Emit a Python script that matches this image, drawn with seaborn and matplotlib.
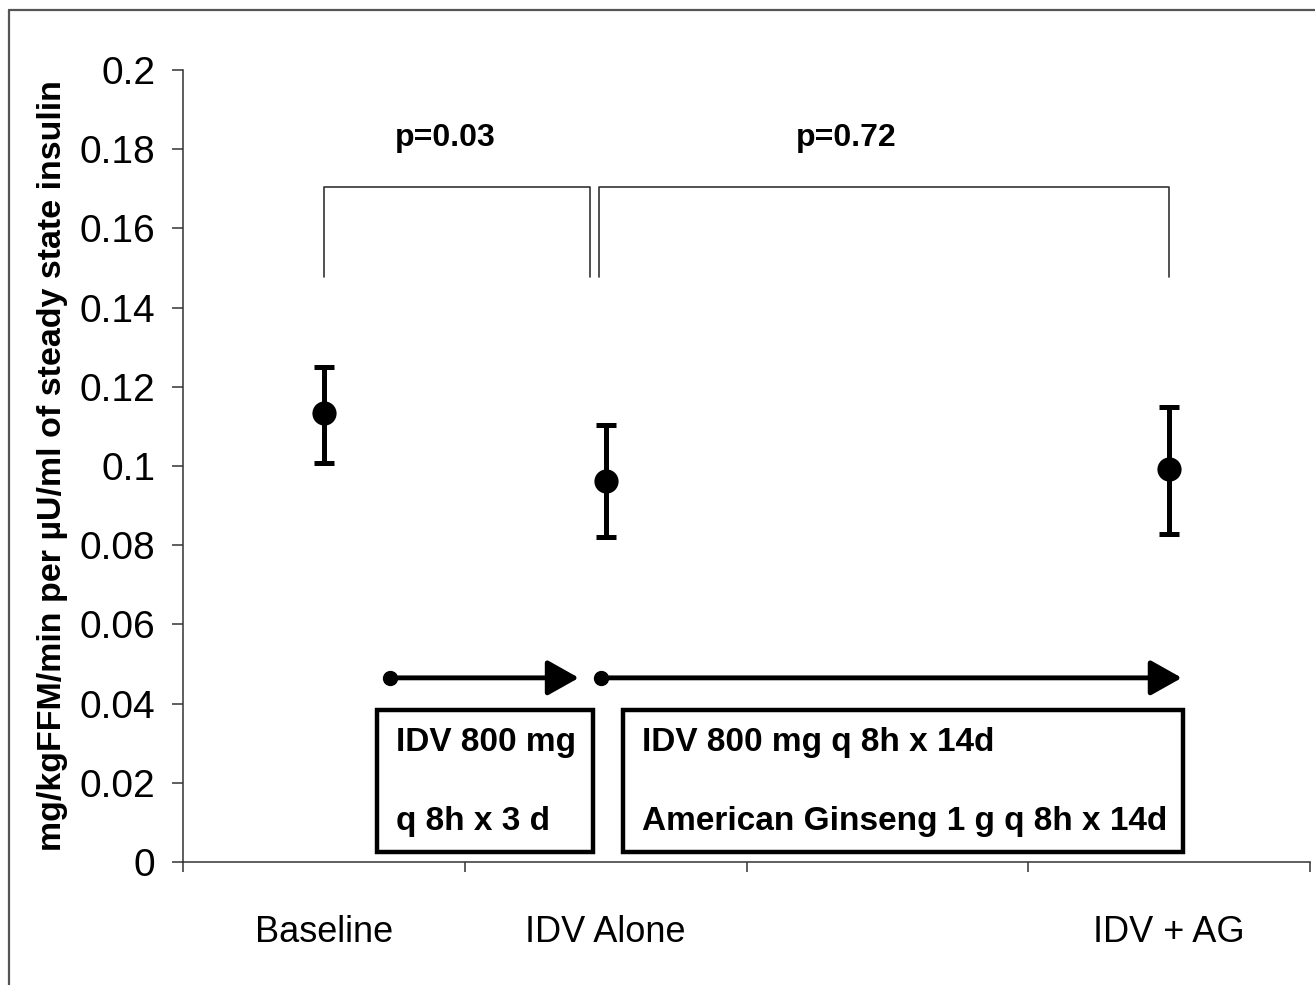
import matplotlib
matplotlib.use("Agg")
import matplotlib.pyplot as plt
from matplotlib.lines import Line2D
from matplotlib.patches import Rectangle
import numpy as np
import pandas as pd
import seaborn as sns

# datos
grupos = ["Baseline", "IDV Alone", "IDV + AG"]
posiciones = [0, 1, 3]
medias = [0.1134, 0.0962, 0.0992]
sup = [0.1250, 0.1104, 0.1149]
inf = [0.1008, 0.0821, 0.0828]

p_textos = ["p=0.03", "p=0.72"]
cajas_textos = [["IDV 800 mg", "q 8h x 3 d"],
                ["IDV 800 mg q 8h x 14d", "American Ginseng 1 g q 8h x 14d"]]

sns.set_style("white")
plt.rcParams["font.family"] = ["Liberation Sans", "DejaVu Sans"]
plt.rcParams["text.color"] = "black"
plt.rcParams["xtick.color"] = "black"
plt.rcParams["ytick.color"] = "black"
plt.rcParams["axes.labelcolor"] = "black"

fig = plt.figure(figsize=(13.15, 9.85), dpi=100)
ax = fig.add_axes([183 / 1315, 123 / 985, 1127 / 1315, 792 / 985])

df = pd.DataFrame({"x": posiciones, "media": medias, "sup": sup, "inf": inf})

ax.errorbar(df["x"], df["media"],
            yerr=[df["media"] - df["inf"], df["sup"] - df["media"]],
            fmt="none", ecolor="black", elinewidth=3.6, capsize=7, capthick=3.6, zorder=3)
sns.scatterplot(data=df, x="x", y="media", color="black", s=260, marker="o",
                edgecolor="black", zorder=4, ax=ax, legend=False)

# corchetes de comparación
lw_b = 1.2
corchetes = [(0.0, 0.944), (0.975, 3.0)]
y_top, y_bot = 0.1705, 0.1477
for (x0, x1), txt in zip(corchetes, p_textos):
    ax.plot([x0, x0, x1, x1], [y_bot, y_top, y_top, y_bot], color="#333333", lw=lw_b)
xs_p = [0.43, 1.855]
for xp, txt in zip(xs_p, p_textos):
    ax.text(xp, 0.1828, txt, ha="center", va="center", fontsize=23, fontweight="bold")

# flechas de tratamiento
flechas = [(0.235, 0.905), (0.983, 3.045)]
y_fl = 0.0465
for x0, x1 in flechas:
    ax.annotate("", xy=(x1, y_fl), xytext=(x0, y_fl),
                arrowprops=dict(arrowstyle="-|>,head_length=0.8,head_width=0.45",
                                mutation_scale=24, lw=3.5, color="black",
                                shrinkA=0, shrinkB=0))
    ax.plot([x0], [y_fl], marker="o", ms=10, color="black")

# cajas
cajas = [(0.189, 0.955), (1.062, 3.049)]
for (x0, x1), lineas in zip(cajas, cajas_textos):
    ax.add_patch(Rectangle((x0, 0.0025), x1 - x0, 0.0359, fill=False,
                           edgecolor="black", lw=3.2, zorder=3))
    ax.text(x0 + 0.068, 0.0302, lineas[0], ha="left", va="center",
            fontsize=24, fontweight="bold")
    ax.text(x0 + 0.068, 0.0102, lineas[1], ha="left", va="center",
            fontsize=24, fontweight="bold")

ax.set_xlim(-0.5, 3.5)
ax.set_ylim(0, 0.2)
ax.set_yticks(np.arange(0, 0.201, 0.02))
ax.set_yticklabels(["0"] + [f"{v:g}" for v in np.arange(0.02, 0.201, 0.02)],
                   fontsize=28)
ax.set_xticks([-0.5, 0.5, 1.5, 2.5, 3.5])
ax.set_xticklabels([])
ax.set_xticks(posiciones, minor=True)
ax.set_xticklabels(grupos, minor=True, fontsize=26)
ax.tick_params(axis="x", which="minor", length=0, pad=38)
ax.tick_params(axis="x", which="major", direction="out", length=7, width=1.1,
               color="#333333", bottom=True)
ax.tick_params(axis="y", direction="out", length=8, width=1.1, color="#333333",
               left=True, pad=12)
ax.set_xlabel("")
ax.set_ylabel("mg/kgFFM/min per µU/ml of steady state insulin",
              fontsize=24.5, fontweight="bold")
ax.yaxis.set_label_coords(-0.102, 0.5)

for s in ["top", "right"]:
    ax.spines[s].set_visible(False)
for s in ["left", "bottom"]:
    ax.spines[s].set_color("#333333")
    ax.spines[s].set_linewidth(1.1)

# marco exterior (solo borde izquierdo y superior visibles)
fig.add_artist(Line2D([8.5 / 1315, 8.5 / 1315], [0, 1 - 10 / 985],
                      transform=fig.transFigure, color="#555555", lw=1.6))
fig.add_artist(Line2D([8.5 / 1315, 1], [1 - 10 / 985, 1 - 10 / 985],
                      transform=fig.transFigure, color="#555555", lw=1.6))

fig.savefig("out.png", dpi=100)
